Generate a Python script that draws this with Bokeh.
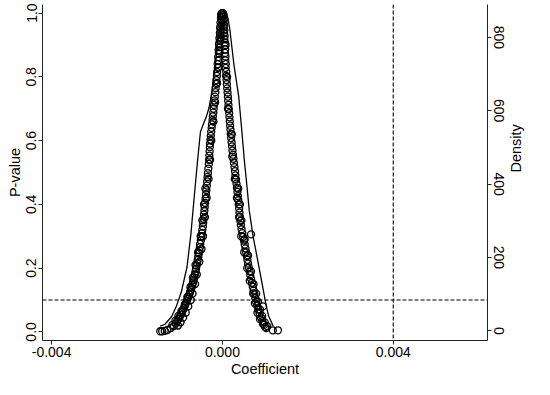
import math
from bokeh.plotting import figure
from bokeh.models import Range1d, LinearAxis, FixedTicker, NumeralTickFormatter, Span
from bokeh.embed import file_html
from bokeh.resources import INLINE

# placebo coefficients (left branch then right branch) and their p-values
coef = [
    -0.000015, -0.000030, -0.000010, -0.000035, -0.000025, -0.000045, -0.000030, -0.000055,
    -0.000040, -0.000060, -0.000050, -0.000070, -0.000062, -0.000080, -0.000075, -0.000090,
    -0.000085, -0.000100, -0.000095, -0.000112, -0.000108, -0.000125, -0.000130, -0.000140,
    -0.000150, -0.000158, -0.000165, -0.000178, -0.000185, -0.000196, -0.000205, -0.000214,
    -0.000225, -0.000232, -0.000245, -0.000252, -0.000262, -0.000272, -0.000280, -0.000290,
    -0.000295, -0.000300, -0.000305, -0.000312, -0.000318, -0.000330, -0.000340, -0.000348,
    -0.000358, -0.000365, -0.000375, -0.000385, -0.000396, -0.000405, -0.000415, -0.000422,
    -0.000432, -0.000440, -0.000450, -0.000458, -0.000470, -0.000480, -0.000492, -0.000505,
    -0.000520, -0.000528, -0.000540, -0.000552, -0.000565, -0.000578, -0.000592, -0.000605,
    -0.000618, -0.000632, -0.000645, -0.000660, -0.000675, -0.000690, -0.000705, -0.000722,
    -0.000740, -0.000758, -0.000775, -0.000795, -0.000815, -0.000835, -0.000858, -0.000878,
    -0.000900, -0.000925, -0.000950, -0.000975, -0.001000, -0.001030, -0.001060, -0.001095,
    -0.001140, -0.001210, -0.001290, -0.001350, -0.001410, -0.001455,
    -0.000040, -0.000070, -0.000090, -0.000125, -0.000170, -0.000210, -0.000260, -0.000290,
    -0.000325, -0.000370, -0.000410, -0.000455, -0.000490, -0.000540, -0.000600, -0.000640,
    -0.000700, -0.000740, -0.000800, -0.000860, -0.000920, -0.000980, -0.001040,
    -0.000400, -0.000430, -0.000470, -0.000510, -0.000570, -0.000630, -0.000690, -0.000750,
    -0.000820, -0.000880, -0.000960, -0.001030, -0.001100, -0.001170,
    0.000010, 0.000025, 0.000015, 0.000035, 0.000020, 0.000040, 0.000030, 0.000045,
    0.000038, 0.000052, 0.000045, 0.000058, 0.000052, 0.000065, 0.000060, 0.000072,
    0.000068, 0.000080, 0.000076, 0.000088, 0.000085, 0.000098, 0.000105, 0.000112,
    0.000120, 0.000128, 0.000135, 0.000142, 0.000150, 0.000158, 0.000165, 0.000172,
    0.000180, 0.000188, 0.000195, 0.000205, 0.000215, 0.000225, 0.000235, 0.000248,
    0.000258, 0.000270, 0.000282, 0.000295, 0.000305, 0.000318, 0.000330, 0.000340,
    0.000352, 0.000362, 0.000372, 0.000382, 0.000392, 0.000400, 0.000410, 0.000420,
    0.000432, 0.000448, 0.000465, 0.000485, 0.000505, 0.000522, 0.000540, 0.000555,
    0.000570, 0.000585, 0.000600, 0.000618, 0.000635, 0.000652, 0.000672, 0.000690,
    0.000710, 0.000730, 0.000750, 0.000770, 0.000790, 0.000815, 0.000840, 0.000870,
    0.000900, 0.000935, 0.000975, 0.001030, 0.001180, 0.001300,
    0.000075, 0.000110, 0.000130, 0.000220, 0.000230, 0.000290, 0.000340, 0.000390,
    0.000440, 0.000670, 0.000510, 0.000580, 0.000640, 0.000720, 0.000760, 0.000950,
    0.000820, 0.000880, 0.000950, 0.001000,
    0.000370, 0.000410, 0.000445, 0.000520, 0.000600, 0.000670, 0.000730, 0.000790,
    0.000830, 0.000880, 0.000930, 0.000990, 0.001050,
]
pval = [
    1.000, 0.995, 0.990, 0.985, 0.978, 0.970, 0.962, 0.955,
    0.947, 0.938, 0.930, 0.921, 0.912, 0.903, 0.893, 0.884,
    0.874, 0.862, 0.851, 0.840, 0.828, 0.815, 0.803, 0.790,
    0.778, 0.765, 0.752, 0.738, 0.726, 0.712, 0.700, 0.688,
    0.676, 0.664, 0.651, 0.640, 0.628, 0.615, 0.603, 0.591,
    0.580, 0.566, 0.553, 0.540, 0.527, 0.512, 0.498, 0.486,
    0.472, 0.459, 0.445, 0.432, 0.418, 0.405, 0.392, 0.380,
    0.368, 0.355, 0.343, 0.331, 0.320, 0.309, 0.298, 0.287,
    0.276, 0.266, 0.256, 0.246, 0.236, 0.226, 0.216, 0.207,
    0.198, 0.189, 0.180, 0.171, 0.163, 0.155, 0.147, 0.139,
    0.131, 0.124, 0.117, 0.110, 0.103, 0.096, 0.089, 0.082,
    0.075, 0.068, 0.061, 0.054, 0.047, 0.040, 0.033, 0.026,
    0.018, 0.012, 0.006, 0.003, 0.002, 0.002,
    0.920, 0.880, 0.830, 0.780, 0.720, 0.660, 0.600, 0.540,
    0.480, 0.420, 0.360, 0.300, 0.260, 0.220, 0.180, 0.150,
    0.120, 0.100, 0.080, 0.060, 0.045, 0.030, 0.020,
    0.450, 0.400, 0.350, 0.300, 0.250, 0.210, 0.170, 0.140,
    0.110, 0.085, 0.065, 0.050, 0.035, 0.022,
    1.000, 0.995, 0.988, 0.980, 0.972, 0.963, 0.955, 0.946,
    0.937, 0.928, 0.918, 0.908, 0.897, 0.886, 0.875, 0.864,
    0.852, 0.840, 0.828, 0.816, 0.803, 0.790, 0.777, 0.764,
    0.751, 0.738, 0.725, 0.712, 0.699, 0.686, 0.673, 0.660,
    0.647, 0.634, 0.621, 0.608, 0.595, 0.582, 0.569, 0.556,
    0.543, 0.530, 0.517, 0.504, 0.491, 0.478, 0.465, 0.452,
    0.439, 0.426, 0.413, 0.400, 0.387, 0.374, 0.361, 0.348,
    0.335, 0.322, 0.310, 0.298, 0.286, 0.274, 0.262, 0.250,
    0.238, 0.226, 0.214, 0.202, 0.190, 0.178, 0.166, 0.154,
    0.142, 0.130, 0.118, 0.106, 0.094, 0.082, 0.070, 0.058,
    0.046, 0.034, 0.022, 0.012, 0.005, 0.005,
    0.900, 0.800, 0.700, 0.620, 0.550, 0.480, 0.420, 0.360,
    0.300, 0.306, 0.250, 0.200, 0.160, 0.120, 0.090, 0.080,
    0.060, 0.040, 0.025, 0.015,
    0.450, 0.400, 0.350, 0.290, 0.240, 0.190, 0.150, 0.120,
    0.095, 0.070, 0.050, 0.030, 0.018,
]

# kernel density of the placebo coefficients (right axis)
dens_coef = [
    -0.001457, -0.001345, -0.001188, -0.001076, -0.000964, -0.000829, -0.000739, -0.000672,
    -0.000583, -0.000515, -0.000448, -0.000381, -0.000314, -0.000246, -0.000179, -0.000112,
    -0.000045, 0.000022, 0.000090, 0.000134, 0.000179, 0.000269, 0.000381, 0.000448,
    0.000515, 0.000583, 0.000627, 0.000717, 0.000784, 0.000941, 0.001008, 0.001076, 0.001188,
]
dens_val = [
    13, 18, 39, 68, 105, 174, 263, 350,
    463, 542, 563, 582, 608, 653, 713, 784,
    845, 866, 868, 850, 816, 726, 639, 553,
    463, 384, 329, 258, 218, 121, 79, 42, 13,
]

x_ticks = [-0.004, 0.0, 0.004]
p_ticks = [0.0, 0.2, 0.4, 0.6, 0.8, 1.0]
d_ticks = [0, 200, 400, 600, 800]
p_threshold = 0.1
true_coef = 0.004

FONT = "Liberation Sans"

p = figure(width=534, height=379, output_backend="svg", toolbar_location=None,
           x_range=Range1d(-0.004213, 0.006207), y_range=Range1d(-0.027, 1.027),
           min_border_left=42, min_border_right=20, min_border_top=4, min_border_bottom=20)
p.extra_y_ranges = {"dens": Range1d(-26.3, 889.5)}
p.grid.visible = False
p.outline_line_color = None
p.background_fill_color = "white"
p.border_fill_color = "white"

right = LinearAxis(y_range_name="dens")
p.add_layout(right, "right")

for ax in [p.xaxis[0], p.yaxis[0], right]:
    ax.axis_line_color = "#222222"
    ax.major_tick_line_color = "#222222"
    ax.major_tick_out = 4
    ax.major_tick_in = 0
    ax.minor_tick_line_color = None
    ax.major_label_text_font = FONT
    ax.major_label_text_font_size = "14px"
    ax.major_label_text_color = "black"
    ax.axis_label_text_font = FONT
    ax.axis_label_text_font_size = "14.5px"
    ax.axis_label_text_font_style = "normal"
    ax.axis_label_text_color = "black"
    ax.major_label_standoff = 2
    ax.axis_label_standoff = 1

p.xaxis[0].ticker = FixedTicker(ticks=x_ticks)
p.xaxis[0].formatter = NumeralTickFormatter(format="0.000")
p.xaxis[0].axis_label = "Coefficient"

p.yaxis[0].ticker = FixedTicker(ticks=p_ticks)
p.yaxis[0].formatter = NumeralTickFormatter(format="0.0")
p.yaxis[0].axis_label = "P-value"
p.yaxis[0].major_label_orientation = "vertical"

right.ticker = FixedTicker(ticks=d_ticks)
right.axis_label = "Density"
right.major_label_orientation = "vertical"
right.axis_label_orientation = math.pi / 2
right.axis_label_standoff = 9

p.add_layout(Span(location=p_threshold, dimension="width", line_color="black",
                  line_dash="4 2", line_width=1.1))
p.add_layout(Span(location=true_coef, dimension="height", line_color="black",
                  line_dash="4 2", line_width=1.1))

p.scatter(coef, pval, marker="circle", size=7, fill_color=None,
          line_color="black", line_width=1.3)
p.line(dens_coef, dens_val, y_range_name="dens", line_color="black", line_width=1.3)

open("out.html", "w").write(file_html(p, INLINE))
